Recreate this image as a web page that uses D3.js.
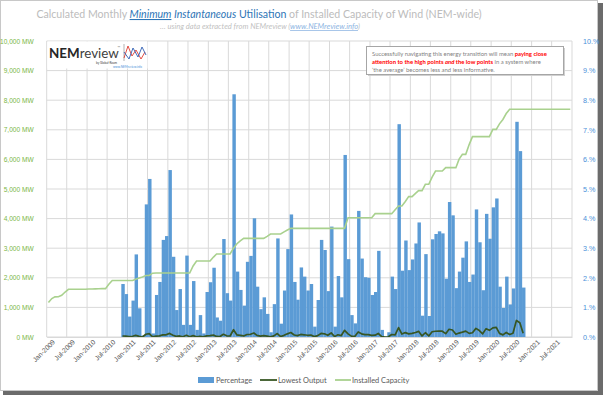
<!DOCTYPE html>
<html>
<head>
<meta charset="utf-8">
<script src="https://cdn.jsdelivr.net/npm/d3@7"></script>
<style>
  body { margin: 0; background: #fff; }
  svg { display: block; font-family: Lato, "Open Sans", sans-serif; }
</style>
</head>
<body>
<div id="chart"></div>
<script>
// monthly series

// installed wind capacity (MW), Jan-2009 .. Dec-2021
const capacityStart = new Date(2009, 0, 1);
const capacityMW = [
  1167, 1300, 1356, 1360, 1411, 1520, 1611, 1611, 1611, 1611, 1611, 1615,
  1620, 1620, 1625, 1630, 1633, 1633, 1780, 1911, 1911, 1911, 1911, 1911,
  1911, 1911, 1950, 1990, 2030, 2078, 2078, 2156, 2160, 2160, 2160, 2160,
  2160, 2160, 2160, 2160, 2160, 2160, 2160, 2400, 2568, 2568, 2568, 2568,
  2568, 2700, 2804, 2804, 2804, 2804, 2804, 3000, 3150, 3250, 3333, 3333,
  3333, 3333, 3333, 3333, 3333, 3400, 3480, 3480, 3480, 3480, 3550, 3615,
  3671, 3671, 3671, 3671, 3671, 3671, 3671, 3671, 3671, 3671, 3671, 3671,
  3671, 3671, 3671, 3671, 3671, 4031, 4031, 4031, 4031, 4031, 4031, 4031,
  4031, 4167, 4167, 4167, 4167, 4167, 4167, 4300, 4426, 4426, 4580, 4741,
  4741, 4850, 4944, 4944, 5158, 5158, 5400, 5608, 5608, 5608, 5721, 5721,
  5721, 5721, 6000, 6171, 6171, 6500, 6768, 6768, 6768, 6768, 6768, 6768,
  7016, 7016, 7200, 7350, 7550, 7692, 7692, 7692, 7692, 7692, 7692, 7692,
  7692, 7692, 7692, 7692, 7692, 7692, 7692, 7692, 7692, 7692, 7692, 7692
];

// minimum instantaneous utilisation (%) and lowest output (MW), Nov-2010 .. Oct-2020
const minStart = new Date(2010, 10, 1);
const minPct = [
  1.79, 1.45, 0.69, 1.23, 2.79, 0.97, 0.05, 4.48, 5.34, 0.12, 1.42, 1.86,
  3.28, 3.41, 5.64, 2.71, 0.91, 1.62, 0.41, 2.75, 0.41, 1.89, 0.24, 0.74,
  0.12, 1.52, 1.85, 2.34, 0.66, 0.55, 3.31, 1.48, 1.23, 8.20, 2.21, 1.59,
  1.06, 2.54, 2.74, 4.01, 1.70, 0.94, 1.34, 0.78, 0.16, 1.11, 3.33, 0.45,
  1.57, 2.97, 4.14, 1.86, 1.26, 2.35, 2.04, 1.57, 1.79, 0.35, 1.25, 3.28,
  2.94, 1.55, 3.73, 0.35, 2.06, 1.34, 6.15, 2.63, 0.74, 0.46, 4.26, 2.65,
  2.02, 2.00, 1.42, 1.52, 2.91, 0.24, 0.01, 0.16, 2.04, 1.62, 7.19, 2.24,
  3.26, 2.26, 2.62, 3.16, 3.87, 0.72, 2.80, 0.71, 3.30, 3.48, 3.57, 3.50,
  1.97, 4.56, 4.11, 1.65, 2.21, 2.68, 3.23, 1.86, 2.11, 4.31, 3.20, 1.58,
  4.16, 3.32, 4.38, 4.68, 1.70, 0.98, 2.04, 1.10, 1.64, 7.27, 6.28, 1.67
];
const lowestMW = [
  34, 28, 13, 24, 54, 19, 1, 93, 111, 3, 31, 40,
  71, 74, 122, 59, 20, 35, 9, 59, 9, 45, 6, 19,
  3, 39, 48, 63, 19, 15, 93, 41, 34, 246, 70, 52,
  35, 85, 91, 134, 57, 31, 45, 27, 6, 39, 116, 16,
  56, 107, 152, 68, 46, 86, 75, 58, 66, 13, 46, 120,
  108, 57, 137, 13, 76, 49, 226, 106, 30, 19, 172, 107,
  81, 81, 57, 63, 121, 10, 0, 7, 85, 70, 318, 99,
  149, 107, 124, 153, 191, 36, 144, 37, 178, 195, 200, 196,
  113, 261, 235, 94, 133, 165, 199, 121, 143, 292, 217, 107,
  282, 225, 307, 328, 122, 72, 154, 85, 126, 559, 483, 128
];

const mwTicks = [0, 1000, 2000, 3000, 4000, 5000, 6000, 7000, 8000, 9000, 10000];
const pctTicks = [0, 1, 2, 3, 4, 5, 6, 7, 8, 9, 10];
const xTickLabels = [
  "Jan-2009", "Jul-2009", "Jan-2010", "Jul-2010", "Jan-2011", "Jul-2011",
  "Jan-2012", "Jul-2012", "Jan-2013", "Jul-2013", "Jan-2014", "Jul-2014",
  "Jan-2015", "Jul-2015", "Jan-2016", "Jul-2016", "Jan-2017", "Jul-2017",
  "Jan-2018", "Jul-2018", "Jan-2019", "Jul-2019", "Jan-2020", "Jul-2020",
  "Jan-2021", "Jul-2021"
];

const W = 604, H = 396;
const plot = {left: 46.7, right: 572, top: 41, bottom: 337};

const svg = d3.select('#chart').append('svg')
  .attr('width', W)
  .attr('height', H);

// frame + shadow
svg.append('rect').attr('x', 3).attr('y', 391).attr('width', 600).attr('height', 4).attr('fill', '#6b6b6b');
svg.append('rect').attr('x', 598).attr('y', 3).attr('width', 5).attr('height', 392).attr('fill', '#6b6b6b');
svg.append('rect')
  .attr('x', 0.5).attr('y', 0.5).attr('width', 597).attr('height', 390)
  .attr('fill', '#fff').attr('stroke', '#c8c8c8');

const monthDate = (start, i) => d3.timeMonth.offset(start, i);

let x = d3.scaleTime()
  .domain([new Date(2009, 0, 1), new Date(2022, 0, 1)])
  .range([plot.left, plot.right]);

let yMW = d3.scaleLinear().domain([0, 10000]).range([plot.bottom, plot.top]);
let yPct = d3.scaleLinear().domain([0, 10]).range([plot.bottom, plot.top]);

const step = x(new Date(2009, 1, 1)) - x(new Date(2009, 0, 1));
const mid = d => x(d) + step / 2;

// gridlines
let gridDates = d3.timeMonth.every(6).range(new Date(2009, 0, 1), new Date(2022, 1, 1));
svg.append('g')
  .selectAll('line')
  .data(gridDates)
  .enter().append('line')
  .attr('x1', d => x(d)).attr('x2', d => x(d))
  .attr('y1', plot.top).attr('y2', plot.bottom)
  .attr('stroke', '#d9d9d9').attr('stroke-width', 1);

svg.append('g')
  .selectAll('line')
  .data(mwTicks)
  .enter().append('line')
  .attr('x1', plot.left).attr('x2', plot.right)
  .attr('y1', d => yMW(d)).attr('y2', d => yMW(d))
  .attr('stroke', '#d9d9d9').attr('stroke-width', 1);

// bars (percentage, right axis)
svg.append('g')
  .selectAll('rect')
  .data(minPct)
  .enter().append('rect')
  .attr('x', (d, i) => x(monthDate(minStart, i)) + 0.6)
  .attr('width', step)
  .attr('y', d => yPct(d))
  .attr('height', d => plot.bottom - yPct(d))
  .attr('fill', '#5b9bd5');

// installed capacity
svg.append('path')
  .datum(capacityMW)
  .attr('fill', 'none')
  .attr('stroke', '#a9d18e')
  .attr('stroke-width', 1.6)
  .attr('d', d3.line()
    .x((d, i) => mid(monthDate(capacityStart, i)))
    .y(d => yMW(d)));

// lowest output
svg.append('path')
  .datum(lowestMW)
  .attr('fill', 'none')
  .attr('stroke', '#375623')
  .attr('stroke-width', 1.7)
  .attr('stroke-linejoin', 'round')
  .attr('d', d3.line()
    .x((d, i) => mid(monthDate(minStart, i)))
    .y(d => yMW(d)));

// axes
svg.append('g')
  .attr('transform', 'translate(' + (plot.left - 10) + ',0)')
  .call(d3.axisLeft(yMW).tickValues(mwTicks).tickSize(0)
    .tickFormat(d => d3.format(',')(d) + ' MW'))
  .call(g => g.select('.domain').remove())
  .selectAll('text')
  .attr('fill', '#7ab648')
  .attr('font-size', 6.6);

svg.append('g')
  .attr('transform', 'translate(' + (plot.right + 8) + ',0)')
  .call(d3.axisRight(yPct).tickValues(pctTicks).tickSize(0)
    .tickFormat(d => d + '.%'))
  .call(g => g.select('.domain').remove())
  .selectAll('text')
  .attr('fill', '#4a90d9')
  .attr('font-size', 7.2);

let xTickDates = xTickLabels.map(s => d3.timeParse('%b-%Y')(s));
let xAxis = svg.append('g')
  .attr('transform', 'translate(0,' + plot.bottom + ')')
  .call(d3.axisBottom(x).tickValues(xTickDates).tickSize(0)
    .tickFormat((d, i) => xTickLabels[i]));
xAxis.select('.domain').attr('stroke', '#d9d9d9');
xAxis.selectAll('text')
  .attr('fill', '#595959')
  .attr('font-size', 6.8)
  .attr('text-anchor', 'end')
  .attr('dy', '0.3em')
  .attr('transform', 'translate(' + (step / 2 + 3) + ',2) rotate(-45)');

// title
let title = svg.append('text')
  .attr('x', 259).attr('y', 18)
  .attr('text-anchor', 'middle')
  .attr('font-size', 10.6)
  .attr('fill', '#bcbcbc');
title.append('tspan').text('Calculated Monthly ');
title.append('tspan').text('Minimum').attr('fill', '#2e75b6').attr('font-style', 'italic')
  .attr('text-decoration', 'underline');
title.append('tspan').text(' Instantaneous').attr('fill', '#2e75b6').attr('font-style', 'italic');
title.append('tspan').text(' Utilisation').attr('fill', '#2e75b6');
title.append('tspan').text(' of Installed Capacity of Wind (NEM-wide)');

let sub = svg.append('text')
  .attr('x', 260).attr('y', 29)
  .attr('text-anchor', 'middle')
  .attr('font-size', 7.6)
  .attr('font-style', 'italic')
  .attr('fill', '#bfbfbf');
sub.append('tspan').text('\u2026 using data extracted from NEMreview (');
sub.append('tspan').text('www.NEMreview.info').attr('fill', '#8db4e2').attr('text-decoration', 'underline');
sub.append('tspan').text(')');

// logo
let logo = svg.append('g');
logo.append('rect').attr('x', 47.5).attr('y', 41.5).attr('width', 100).attr('height', 27).attr('fill', '#fff');
let lt = logo.append('text').attr('x', 49).attr('y', 58).attr('font-size', 13.4).attr('fill', '#262626');
lt.append('tspan').text('NEM').attr('font-weight', 'bold');
lt.append('tspan').text('review').attr('fill', '#404040');
logo.append('text').attr('x', 117.5).attr('y', 49).attr('font-size', 3.6).attr('fill', '#595959').text('\u2122');
logo.append('text').attr('x', 96).attr('y', 63.5).attr('font-size', 3).attr('fill', '#404040').text('by Global-Roam');
logo.append('text').attr('x', 113).attr('y', 68).attr('font-size', 3).attr('fill', '#4a90d9').text('www.NEMreview.info');
logo.append('line').attr('x1', 124).attr('x2', 124).attr('y1', 44).attr('y2', 61).attr('stroke', '#7f7f7f').attr('stroke-width', 0.6);
logo.append('polyline').attr('points', '124,58 128,46 132,56 136,50 141,59 145,52')
  .attr('fill', 'none').attr('stroke', '#e03c31').attr('stroke-width', 0.9);
logo.append('polyline').attr('points', '124,52 129,59 133,48 138,57 142,47 146,55')
  .attr('fill', 'none').attr('stroke', '#2f5fb3').attr('stroke-width', 0.9);

// annotation box
let note = svg.append('g');
note.append('rect').attr('x', 368).attr('y', 48).attr('width', 197).attr('height', 28).attr('fill', '#d0d0d0');
note.append('rect').attr('x', 366.5).attr('y', 46.5).attr('width', 197).attr('height', 28)
  .attr('fill', '#fff').attr('stroke', '#a6a6a6');
let n1 = note.append('text').attr('x', 372).attr('y', 55.5).attr('font-size', 5.9).attr('fill', '#7f7f7f');
n1.append('tspan').text('Successfully navigating this energy transition will mean ');
n1.append('tspan').text('paying close').attr('fill', '#ff0000').attr('font-weight', 'bold');
let n2 = note.append('text').attr('x', 372).attr('y', 63.5).attr('font-size', 5.9).attr('fill', '#7f7f7f');
n2.append('tspan').text('attention to ').attr('fill', '#ff0000').attr('font-weight', 'bold');
n2.append('tspan').text('the high points ').attr('fill', '#ff0000').attr('font-weight', 'bold');
n2.append('tspan').text('and').attr('fill', '#ff0000').attr('font-weight', 'bold').attr('font-style', 'italic');
n2.append('tspan').text(' the low points').attr('fill', '#ff0000').attr('font-weight', 'bold');
n2.append('tspan').text(' in a system where');
note.append('text').attr('x', 372).attr('y', 71.5).attr('font-size', 5.9).attr('fill', '#7f7f7f')
  .text('\u2018the average\u2019 becomes less and less informative.');

// legend
let legend = svg.append('g').attr('font-size', 7.4).attr('fill', '#595959');
legend.append('rect').attr('x', 198).attr('y', 377).attr('width', 16).attr('height', 6).attr('fill', '#5b9bd5');
legend.append('text').attr('x', 216).attr('y', 382.5).text('Percentage');
legend.append('line').attr('x1', 260).attr('x2', 277).attr('y1', 380).attr('y2', 380)
  .attr('stroke', '#375623').attr('stroke-width', 1.8);
legend.append('text').attr('x', 278).attr('y', 382.5).text('Lowest Output');
legend.append('line').attr('x1', 335).attr('x2', 351).attr('y1', 380).attr('y2', 380)
  .attr('stroke', '#a9d18e').attr('stroke-width', 1.8);
legend.append('text').attr('x', 352).attr('y', 382.5).text('Installed Capacity');
</script>
</body>
</html>
